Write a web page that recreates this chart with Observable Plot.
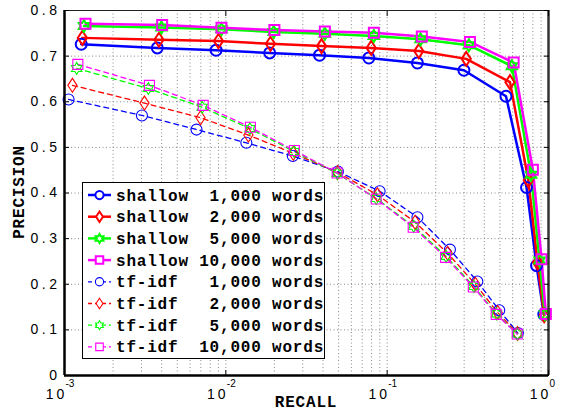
<!DOCTYPE html>
<html><head><meta charset="utf-8">
<script src="https://cdn.jsdelivr.net/npm/d3@7"></script>
<script src="https://cdn.jsdelivr.net/npm/@observablehq/plot@0.6"></script>
<style>
body{margin:0;background:#fff}
g[aria-label="y-axis tick label"] text{letter-spacing:3.5px}
g[aria-label="x-axis tick label"] text{letter-spacing:3px}
g[aria-label="exponent"] text{letter-spacing:2.5px}
</style>
</head><body><div id="chart"></div>
<script>
// ---- data ----
const methods = ["shallow", "tf-idf"];
const vocab = ["1,000", "2,000", "5,000", "10,000"];
const seriesColors = ["#0000ff", "#ff0000", "#00ff00", "#ff00ff"];

const shallowRecall1000 = [0.00127,0.00376,0.0087,0.0187,0.0381,0.077,0.154,0.299,0.545,0.731,0.843,0.935];
const shallowPrecision1000 = [0.726,0.718,0.713,0.707,0.702,0.696,0.685,0.669,0.612,0.412,0.241,0.134];
const shallowRecall2000 = [0.00129,0.00385,0.0090,0.0189,0.0392,0.0796,0.157,0.309,0.577,0.750,0.855,0.94];
const shallowPrecision2000 = [0.740,0.736,0.733,0.727,0.722,0.718,0.711,0.694,0.643,0.428,0.248,0.132];
const shallowRecall5000 = [0.00132,0.00399,0.0094,0.0198,0.0411,0.0827,0.161,0.321,0.593,0.78,0.88,0.95];
const shallowPrecision5000 = [0.766,0.763,0.759,0.753,0.749,0.744,0.737,0.724,0.678,0.44,0.252,0.134];
const shallowRecall10000 = [0.00135,0.00403,0.0094,0.0200,0.0411,0.0827,0.164,0.326,0.608,0.80,0.906,0.963];
const shallowPrecision10000 = [0.771,0.768,0.762,0.757,0.754,0.751,0.743,0.731,0.686,0.451,0.255,0.135];

const tfidfRecall1000 = [0.00106,0.00302,0.00658,0.0134,0.0260,0.0495,0.0898,0.154,0.245,0.362,0.495,0.646];
const tfidfPrecision1000 = [0.605,0.570,0.539,0.510,0.481,0.447,0.404,0.347,0.276,0.206,0.143,0.093];
const tfidfRecall2000 = [0.00112,0.00313,0.00697,0.0138,0.0262,0.0493,0.087,0.149,0.237,0.352,0.484,0.643];
const tfidfPrecision2000 = [0.636,0.597,0.565,0.527,0.487,0.445,0.396,0.336,0.268,0.200,0.138,0.092];
const tfidfRecall5000 = [0.00119,0.00331,0.00714,0.0141,0.0265,0.049,0.0855,0.146,0.232,0.345,0.476,0.642];
const tfidfPrecision5000 = [0.673,0.629,0.588,0.541,0.491,0.443,0.388,0.327,0.261,0.195,0.135,0.091];
const tfidfRecall10000 = [0.00121,0.00336,0.00724,0.0142,0.0266,0.049,0.0855,0.145,0.230,0.342,0.474,0.640];
const tfidfPrecision10000 = [0.682,0.636,0.592,0.544,0.493,0.444,0.387,0.325,0.259,0.194,0.134,0.091];

const xTickValues = [0.001, 0.01, 0.1, 1];
const xTickExponents = ["-3", "-2", "-1", "0"];
const yTickValues = [0, 0.1, 0.2, 0.3, 0.4, 0.5, 0.6, 0.7, 0.8];
const xTitle = "RECALL";
const yTitle = "PRECISION";

// ---- build table ----
const recallSets = {shallow: [shallowRecall1000, shallowRecall2000, shallowRecall5000, shallowRecall10000],
                    "tf-idf": [tfidfRecall1000, tfidfRecall2000, tfidfRecall5000, tfidfRecall10000]};
const precisionSets = {shallow: [shallowPrecision1000, shallowPrecision2000, shallowPrecision5000, shallowPrecision10000],
                       "tf-idf": [tfidfPrecision1000, tfidfPrecision2000, tfidfPrecision5000, tfidfPrecision10000]};
const rows = [];
methods.forEach(m => vocab.forEach((v, vi) => {
  recallSets[m][vi].forEach((r, i) => rows.push({method: m, vocab: v, vi, color: seriesColors[vi], recall: r, precision: precisionSets[m][vi][i]}));
}));

// ---- marker symbols ----
const makeSymbols = k => [
  {draw(c){ c.moveTo(5.5*k,0); c.arc(0,0,5.5*k,0,2*Math.PI); c.closePath(); }},
  {draw(c){ c.moveTo(0,-7*k); c.lineTo(4.6*k,0); c.lineTo(0,7*k); c.lineTo(-4.6*k,0); c.closePath(); }},
  {draw(c){
    const R = 6*k, r = R/Math.sqrt(3);
    for (let j = 0; j < 12; j++) {
      const a = -Math.PI/2 + j*Math.PI/6, rr = j%2 ? r : R;
      const px = rr*Math.cos(a), py = rr*Math.sin(a);
      j ? c.lineTo(px,py) : c.moveTo(px,py);
    }
    c.closePath();
  }},
  {draw(c){ c.moveTo(-5*k,-5*k); c.lineTo(5*k,-5*k); c.lineTo(5*k,5*k); c.lineTo(-5*k,5*k); c.closePath(); }}
];
const symbols = makeSymbols(1);
const legendSymbols = makeSymbols(0.75);

// grid values
const xGrid = [];
for (let e = -3; e < 0; e++) for (let k = 1; k <= 9; k++) xGrid.push(k*Math.pow(10,e));
xGrid.push(1);
const yGrid = yTickValues.slice(1, -1);

const styleFor = m => m === "shallow"
  ? {lineWidth: 2.5, dash: null, markWidth: 2}
  : {lineWidth: 1.3, dash: "5,4", markWidth: 1.1};

const marks = [
  Plot.gridX({ticks: xGrid, stroke: "#8a8a8a", strokeOpacity: 1, strokeDasharray: "1,2.5"}),
  Plot.gridY({ticks: yGrid, stroke: "#8a8a8a", strokeOpacity: 1, strokeDasharray: "1,2.5"}),
];
methods.forEach(m => {
  const s = styleFor(m);
  const data = rows.filter(d => d.method === m);
  marks.push(Plot.line(data, {x: "recall", y: "precision", z: "vocab", stroke: "color", strokeWidth: s.lineWidth, strokeDasharray: s.dash}));
});
methods.forEach(m => {
  const s = styleFor(m);
  vocab.forEach((v, vi) => {
    marks.push(Plot.dot(rows.filter(d => d.method === m && d.vi === vi),
      {x: "recall", y: "precision", symbol: symbols[vi], stroke: "color", fill: "none", strokeWidth: s.markWidth, r: 5}));
  });
});
marks.push(
  Plot.frame({stroke: "#222", strokeWidth: 1}),
  Plot.ruleX([0.001], {stroke: "black", strokeWidth: 2.5}),
  Plot.ruleX([1], {stroke: "#333", strokeWidth: 2.5}),
  Plot.ruleY([0], {stroke: "black", strokeWidth: 2.5}),
  Plot.axisY({ticks: yTickValues, tickSize: -5, tickPadding: 9, tickFormat: d => d === 0 ? "0" : d.toFixed(1), fontSize: 14, label: null}),
  Plot.axisY({anchor: "right", ticks: yTickValues, tickSize: -5, tickFormat: () => "", label: null}),
  Plot.axisX({ticks: xTickValues, tickSize: -5, tickFormat: () => "", label: null}),
  Plot.axisX({anchor: "top", ticks: xTickValues, tickSize: -5, tickFormat: () => "", label: null}),
  Plot.axisX({ticks: xTickValues, tickSize: 0, tickPadding: 14, tickFormat: () => "10", dx: -8, fontSize: 14, label: null}),
  Plot.text(xTickValues, {x: d => d, frameAnchor: "bottom", text: (d, i) => xTickExponents[i], dx: 1, dy: 11, textAnchor: "start", fontSize: 10, ariaLabel: "exponent"})
);

const chart = Plot.plot({
  width: 565, height: 411,
  marginLeft: 64, marginRight: 17, marginTop: 10, marginBottom: 36,
  x: {type: "log", domain: [0.001, 1]},
  y: {domain: [0, 0.8]},
  style: {fontFamily: "Liberation Sans", fontSize: "14px", background: "white", color: "black", overflow: "visible"},
  marks
});
document.getElementById("chart").appendChild(chart);

const svg = d3.select(chart);
// ---- axis titles ----
svg.append("text").attr("transform", "translate(306,407)").attr("text-anchor", "middle")
  .attr("font-family", "Liberation Mono").attr("font-weight", "bold").attr("font-size", 16)
  .attr("letter-spacing", "0.8px").text(xTitle);
svg.append("text").attr("transform", "translate(24,192) rotate(-90)").attr("text-anchor", "middle")
  .attr("font-family", "Liberation Mono").attr("font-weight", "bold").attr("font-size", 16)
  .attr("letter-spacing", "0.8px").text(yTitle);

// ---- legend ----
const labels = [];
methods.forEach(m => vocab.forEach((v, vi) => labels.push({m, vi, text: (m === "shallow" ? "shallow" : "tf-idf ") + " ".repeat(7 - v.length) + v + " words"})));
const lg = svg.append("g").attr("aria-label", "legend");
lg.append("rect").attr("x", 82.5).attr("y", 182.5).attr("width", 242).attr("height", 176)
  .attr("fill", "white").attr("stroke", "black").attr("stroke-width", 1);
labels.forEach((d, i) => {
  const cy = 195 + i * 21.7, s = styleFor(d.m), col = seriesColors[d.vi];
  lg.append("line").attr("x1", 88).attr("x2", 111).attr("y1", cy).attr("y2", cy)
    .attr("stroke", col).attr("stroke-width", s.lineWidth).attr("stroke-dasharray", d.m === "shallow" ? null : "4,3");
  lg.append("path").attr("d", d3.symbol(legendSymbols[d.vi])()).attr("transform", `translate(99.5,${cy})`)
    .attr("fill", "white").attr("stroke", col).attr("stroke-width", s.markWidth);
  lg.append("text").attr("x", 116).attr("y", cy + 5.5).attr("text-anchor", "start").text(d.text)
    .attr("font-family", "Liberation Mono").attr("font-weight", "bold").attr("font-size", 16)
    .attr("letter-spacing", "0.8px").style("white-space", "pre");
});
</script>
</body></html>
